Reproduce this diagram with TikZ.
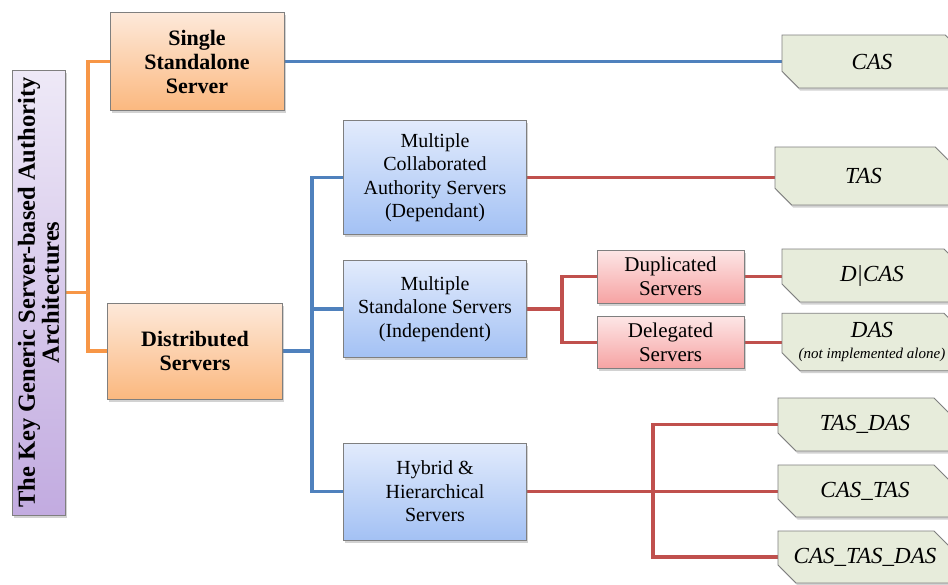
\documentclass[tikz,border=0pt]{standalone}
\usepackage{fontspec}
\setmainfont{Liberation Serif}
\usetikzlibrary{shadows,shapes.misc,backgrounds}
\definecolor{boxborder}{HTML}{7F7F7F}
\definecolor{orTop}{HTML}{FDE9DA}
\definecolor{orBot}{HTML}{FBB87F}
\definecolor{blTop}{HTML}{E2EBFC}
\definecolor{blBot}{HTML}{A3C1F4}
\definecolor{rdTop}{HTML}{FDE6E6}
\definecolor{rdBot}{HTML}{F6A3A3}
\definecolor{puTop}{HTML}{EEE9F7}
\definecolor{puBot}{HTML}{C2ABE0}
\definecolor{grFill}{HTML}{E7ECDB}
\definecolor{oLine}{HTML}{F79646}
\definecolor{bLine}{HTML}{4F81BD}
\definecolor{rLine}{HTML}{C0504D}
\begin{document}
\begin{tikzpicture}[x=1pt,y=-1pt,
  box/.style={draw=boxborder, line width=0.8pt, inner sep=0pt, align=center,
    drop shadow={shadow xshift=1.5pt, shadow yshift=-2.5pt, opacity=0.35}},
  orangebox/.style={box, top color=orTop, bottom color=orBot,
    font=\fontsize{22}{24}\selectfont\bfseries},
  bluebox/.style={box, top color=blTop, bottom color=blBot,
    font=\fontsize{20}{23.5}\selectfont},
  redbox/.style={box, top color=rdTop, bottom color=rdBot,
    font=\fontsize{21}{24}\selectfont},
  purplebox/.style={box, top color=puTop, bottom color=puBot},
  leafbox/.style={box, fill=grFill, chamfered rectangle,
    chamfered rectangle corners={north east, south west},
    chamfered rectangle xsep=9pt, chamfered rectangle ysep=9pt,
    font=\fontsize{23}{24}\selectfont\itshape},
  oline/.style={draw=oLine, line width=3.5pt},
  bline/.style={draw=bLine, line width=3.5pt},
  rline/.style={draw=rLine, line width=3.5pt}
]
\useasboundingbox (0,0) rectangle (948,584);

% title
\node[purplebox, minimum width=53pt, minimum height=445pt] (title) at (38.5,292.5) {};
\node[rotate=90, align=center, inner sep=0pt, font=\fontsize{24.5}{24}\selectfont\bfseries]
  (titletext) at (title.center) {The Key Generic Server-based Authority\\Architectures};

% level 1
\node[orangebox, minimum width=174pt, minimum height=98pt] (single) at (197,61.5) {Single\\Standalone\\Server};
\node[orangebox, minimum width=175pt, minimum height=96pt] (dist) at (195,351) {Distributed\\Servers};

% level 2
\node[bluebox, minimum width=183pt, minimum height=114pt] (collab) at (435,177.5) {Multiple\\Collaborated\\Authority Servers\\(Dependant)};
\node[bluebox, minimum width=183pt, minimum height=97pt] (stand) at (435,309) {Multiple\\Standalone Servers\\(Independent)};
\node[bluebox, minimum width=183pt, minimum height=97pt] (hybrid) at (435,491.5) {Hybrid \&\\Hierarchical\\Servers};

% level 3
\node[redbox, minimum width=147pt, minimum height=53pt] (dup) at (670.5,276.5) {Duplicated\\Servers};
\node[redbox, minimum width=147pt, minimum height=52pt] (del) at (670.5,342.5) {Delegated\\Servers};

% leaves
\node[leafbox, minimum width=180pt, minimum height=53pt] (cas) at (872,61.5) {CAS};
\node[leafbox, minimum width=177pt, minimum height=58pt] (tas) at (863.5,176) {TAS};
\node[leafbox, minimum width=180pt, minimum height=53pt] (dcas) at (872,275.5) {D|CAS};
\node[leafbox, minimum width=180pt, minimum height=52pt] (das) at (872,342) {DAS\\[-3pt]{\fontsize{15}{16}\selectfont (not implemented alone)}};
\node[leafbox, minimum width=174pt, minimum height=53pt] (tasdas) at (865,424.5) {TAS\_DAS};
\node[leafbox, minimum width=174pt, minimum height=52pt] (castas) at (865,491) {CAS\_TAS};
\node[leafbox, minimum width=174pt, minimum height=52pt] (castasdas) at (865,557) {CAS\_TAS\_DAS};

% junctions
\coordinate (jo) at (88,292.5);
\coordinate (jb) at (312,351);
\coordinate (jr1) at (562,309);
\coordinate (jr2) at (653,491.5);

\begin{scope}[on background layer]
\fill[white] (0,0) rectangle (948,584);
\draw[oline] (title.east) -- (jo) |- (single.west);
\draw[oline] (jo) |- (dist.west);
\draw[bline] (single.east) -- (single.east -| cas.west);
\draw[bline] (dist.east) -- (jb) |- (collab.west);
\draw[bline] (jb) |- (stand.west);
\draw[bline] (jb) |- (hybrid.west);
\draw[rline] (collab.east) -- (collab.east -| tas.west);
\draw[rline] (stand.east) -- (jr1) |- (dup.west);
\draw[rline] (jr1) |- (del.west);
\draw[rline] (dup.east) -- (dup.east -| dcas.west);
\draw[rline] (del.east) -- (del.east -| das.west);
\draw[rline] (hybrid.east) -- (jr2) |- (tasdas.west);
\draw[rline] (jr2) |- (castasdas.west);
\draw[rline] (jr2) -- (jr2 -| castas.west);
\end{scope}
\end{tikzpicture}
\end{document}
